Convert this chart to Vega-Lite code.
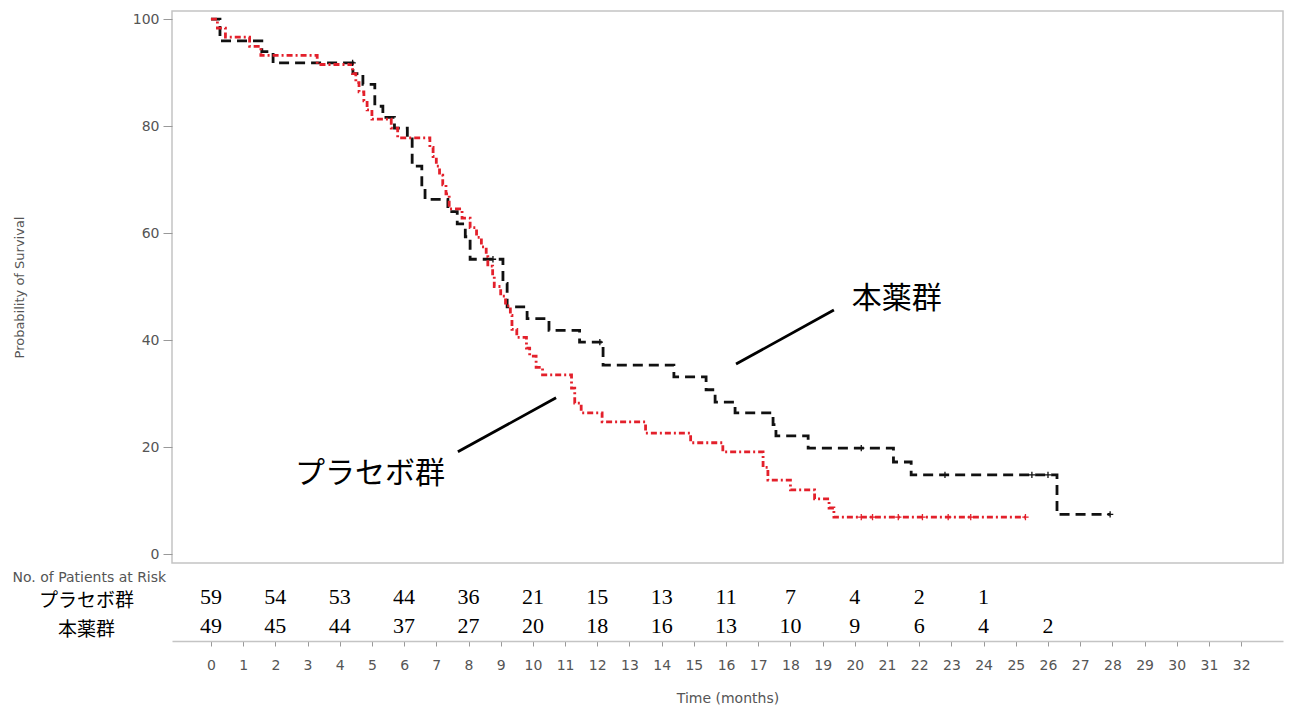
{
  "$schema": "https://vega.github.io/schema/vega-lite/v6.json",
  "padding": {"left": 12, "top": 10, "right": 5, "bottom": 5},
  "background": "white",
  "spacing": 5,
  "bounds": "flush",
  "config": {
    "view": {"stroke": "#c4c4c4", "strokeWidth": 1.5},
    "axis": {"labelFont": "DejaVu Sans", "titleFont": "DejaVu Sans", "labelColor": "#555555", "titleColor": "#555555", "grid": false}
  },
  "datasets": {
    "km": [
      {"group": "本薬群", "t": 0, "s": 100},
      {"group": "本薬群", "t": 0.28, "s": 95.9},
      {"group": "本薬群", "t": 1.58, "s": 93.9},
      {"group": "本薬群", "t": 1.93, "s": 91.8},
      {"group": "本薬群", "t": 4.41, "s": 89.8},
      {"group": "本薬群", "t": 4.72, "s": 87.8},
      {"group": "本薬群", "t": 5.09, "s": 83.7},
      {"group": "本薬群", "t": 5.34, "s": 81.6},
      {"group": "本薬群", "t": 5.7, "s": 79.6},
      {"group": "本薬群", "t": 6.1, "s": 77.6},
      {"group": "本薬群", "t": 6.25, "s": 72.5},
      {"group": "本薬群", "t": 6.55, "s": 68.4},
      {"group": "本薬群", "t": 6.65, "s": 66.3},
      {"group": "本薬群", "t": 7.36, "s": 64.0},
      {"group": "本薬群", "t": 7.65, "s": 61.7},
      {"group": "本薬群", "t": 7.9, "s": 59.3},
      {"group": "本薬群", "t": 8.05, "s": 55.1},
      {"group": "本薬群", "t": 9.07, "s": 50.6},
      {"group": "本薬群", "t": 9.2, "s": 46.2},
      {"group": "本薬群", "t": 9.82, "s": 44.0},
      {"group": "本薬群", "t": 10.5, "s": 41.8},
      {"group": "本薬群", "t": 11.45, "s": 39.6},
      {"group": "本薬群", "t": 12.18, "s": 35.3},
      {"group": "本薬群", "t": 14.38, "s": 33.1},
      {"group": "本薬群", "t": 15.38, "s": 30.7},
      {"group": "本薬群", "t": 15.66, "s": 28.4},
      {"group": "本薬群", "t": 16.28, "s": 26.4},
      {"group": "本薬群", "t": 17.46, "s": 24.2},
      {"group": "本薬群", "t": 17.55, "s": 22.1},
      {"group": "本薬群", "t": 18.55, "s": 19.8},
      {"group": "本薬群", "t": 21.2, "s": 17.2},
      {"group": "本薬群", "t": 21.75, "s": 14.8},
      {"group": "本薬群", "t": 26.28, "s": 7.4},
      {"group": "本薬群", "t": 27.93, "s": 7.4},
      {"group": "プラセボ群", "t": 0, "s": 100},
      {"group": "プラセボ群", "t": 0.2, "s": 98.3},
      {"group": "プラセボ群", "t": 0.45, "s": 96.6},
      {"group": "プラセボ群", "t": 1.2, "s": 94.9},
      {"group": "プラセボ群", "t": 1.55, "s": 93.2},
      {"group": "プラセボ群", "t": 3.3, "s": 91.5},
      {"group": "プラセボ群", "t": 4.4, "s": 89.8},
      {"group": "プラセボ群", "t": 4.5, "s": 88.1},
      {"group": "プラセボ群", "t": 4.6, "s": 86.4},
      {"group": "プラセボ群", "t": 4.75, "s": 84.7},
      {"group": "プラセボ群", "t": 4.85, "s": 83.0},
      {"group": "プラセボ群", "t": 5.0, "s": 81.3},
      {"group": "プラセボ群", "t": 5.6, "s": 79.6},
      {"group": "プラセボ群", "t": 5.8, "s": 77.8},
      {"group": "プラセボ群", "t": 6.8, "s": 76.0},
      {"group": "プラセボ群", "t": 6.9, "s": 74.3},
      {"group": "プラセボ群", "t": 7.0, "s": 72.5},
      {"group": "プラセボ群", "t": 7.1, "s": 70.8},
      {"group": "プラセボ群", "t": 7.2, "s": 69.0},
      {"group": "プラセボ群", "t": 7.3, "s": 67.3},
      {"group": "プラセボ群", "t": 7.4, "s": 64.5},
      {"group": "プラセボ群", "t": 7.8, "s": 62.8},
      {"group": "プラセボ群", "t": 8.05, "s": 61.0},
      {"group": "プラセボ群", "t": 8.25, "s": 59.2},
      {"group": "プラセボ群", "t": 8.4, "s": 57.4},
      {"group": "プラセボ群", "t": 8.55, "s": 55.6},
      {"group": "プラセボ群", "t": 8.6, "s": 53.8},
      {"group": "プラセボ群", "t": 8.75, "s": 52.0},
      {"group": "プラセボ群", "t": 8.8, "s": 50.0},
      {"group": "プラセボ群", "t": 9.0, "s": 48.2},
      {"group": "プラセボ群", "t": 9.15, "s": 46.4},
      {"group": "プラセボ群", "t": 9.3, "s": 44.6},
      {"group": "プラセボ群", "t": 9.35, "s": 42.0},
      {"group": "プラセボ群", "t": 9.5, "s": 40.5},
      {"group": "プラセボ群", "t": 9.8, "s": 38.5},
      {"group": "プラセボ群", "t": 9.9, "s": 37.0},
      {"group": "プラセボ群", "t": 10.1, "s": 34.9},
      {"group": "プラセボ群", "t": 10.3, "s": 33.5},
      {"group": "プラセボ群", "t": 11.2, "s": 31.0},
      {"group": "プラセボ群", "t": 11.3, "s": 28.2},
      {"group": "プラセボ群", "t": 11.5, "s": 26.4},
      {"group": "プラセボ群", "t": 12.15, "s": 24.7},
      {"group": "プラセボ群", "t": 13.5, "s": 22.6},
      {"group": "プラセボ群", "t": 14.9, "s": 20.8},
      {"group": "プラセボ群", "t": 15.9, "s": 19.1},
      {"group": "プラセボ群", "t": 17.15, "s": 16.2},
      {"group": "プラセボ群", "t": 17.3, "s": 13.8},
      {"group": "プラセボ群", "t": 18.0, "s": 12.0},
      {"group": "プラセボ群", "t": 18.75, "s": 10.3},
      {"group": "プラセボ群", "t": 19.2, "s": 8.6},
      {"group": "プラセボ群", "t": 19.35, "s": 6.9},
      {"group": "プラセボ群", "t": 25.3, "s": 6.9}
    ],
    "censor": [
      {"group": "本薬群", "t": 4.4, "s": 91.8},
      {"group": "本薬群", "t": 8.76, "s": 55.1},
      {"group": "本薬群", "t": 12.08, "s": 39.6},
      {"group": "本薬群", "t": 20.2, "s": 19.8},
      {"group": "本薬群", "t": 22.8, "s": 14.8},
      {"group": "本薬群", "t": 25.5, "s": 14.8},
      {"group": "本薬群", "t": 26.0, "s": 14.8},
      {"group": "本薬群", "t": 27.93, "s": 7.4},
      {"group": "プラセボ群", "t": 20.2, "s": 6.9},
      {"group": "プラセボ群", "t": 20.55, "s": 6.9},
      {"group": "プラセボ群", "t": 21.35, "s": 6.9},
      {"group": "プラセボ群", "t": 22.1, "s": 6.9},
      {"group": "プラセボ群", "t": 22.9, "s": 6.9},
      {"group": "プラセボ群", "t": 23.6, "s": 6.9},
      {"group": "プラセボ群", "t": 25.3, "s": 6.9}
    ],
    "ann": [
      {"t": 7.67, "s": 19.1, "t2": 10.72, "s2": 29.2},
      {"t": 16.31, "s": 35.5, "t2": 19.35, "s2": 45.6}
    ],
    "labels": [
      {"t": 4.94, "s": 15.0, "label": "プラセボ群"},
      {"t": 21.3, "s": 47.7, "label": "本薬群"}
    ],
    "risk": [
      {"group": "プラセボ群", "row": 1, "t": 0, "n": 59},
      {"group": "プラセボ群", "row": 1, "t": 2, "n": 54},
      {"group": "プラセボ群", "row": 1, "t": 4, "n": 53},
      {"group": "プラセボ群", "row": 1, "t": 6, "n": 44},
      {"group": "プラセボ群", "row": 1, "t": 8, "n": 36},
      {"group": "プラセボ群", "row": 1, "t": 10, "n": 21},
      {"group": "プラセボ群", "row": 1, "t": 12, "n": 15},
      {"group": "プラセボ群", "row": 1, "t": 14, "n": 13},
      {"group": "プラセボ群", "row": 1, "t": 16, "n": 11},
      {"group": "プラセボ群", "row": 1, "t": 18, "n": 7},
      {"group": "プラセボ群", "row": 1, "t": 20, "n": 4},
      {"group": "プラセボ群", "row": 1, "t": 22, "n": 2},
      {"group": "プラセボ群", "row": 1, "t": 24, "n": 1},
      {"group": "本薬群", "row": 2, "t": 0, "n": 49},
      {"group": "本薬群", "row": 2, "t": 2, "n": 45},
      {"group": "本薬群", "row": 2, "t": 4, "n": 44},
      {"group": "本薬群", "row": 2, "t": 6, "n": 37},
      {"group": "本薬群", "row": 2, "t": 8, "n": 27},
      {"group": "本薬群", "row": 2, "t": 10, "n": 20},
      {"group": "本薬群", "row": 2, "t": 12, "n": 18},
      {"group": "本薬群", "row": 2, "t": 14, "n": 16},
      {"group": "本薬群", "row": 2, "t": 16, "n": 13},
      {"group": "本薬群", "row": 2, "t": 18, "n": 10},
      {"group": "本薬群", "row": 2, "t": 20, "n": 9},
      {"group": "本薬群", "row": 2, "t": 22, "n": 6},
      {"group": "本薬群", "row": 2, "t": 24, "n": 4},
      {"group": "本薬群", "row": 2, "t": 26, "n": 2}
    ]
  },
  "vconcat": [
    {
      "width": 1111,
      "height": 552,
      "encoding": {
        "x": {"field": "t", "type": "quantitative", "scale": {"domain": [-1.21, 33.3], "nice": false, "zero": false}, "axis": null},
        "y": {"field": "s", "type": "quantitative", "scale": {"domain": [-1.68, 101.5], "nice": false, "zero": false},
          "axis": {"values": [0, 20, 40, 60, 80, 100], "title": "Probability of Survival", "titleFontSize": 13, "titleFontWeight": "normal", "labelFontSize": 14, "tickSize": 9, "tickColor": "#999999", "domain": false, "labelPadding": 4, "titlePadding": 106}}
      },
      "layer": [
        {
          "data": {"name": "km"},
          "mark": {"type": "line", "interpolate": "step-after", "strokeWidth": 2.8},
          "encoding": {
            "color": {"field": "group", "type": "nominal", "scale": {"domain": ["本薬群", "プラセボ群"], "range": ["#111111", "#e3202b"]}, "legend": null},
            "strokeDash": {"field": "group", "type": "nominal", "scale": {"domain": ["本薬群", "プラセボ群"], "range": [[10, 6], [6, 3, 2, 3]]}, "legend": null}
          }
        },
        {
          "data": {"name": "censor"},
          "mark": {"type": "point", "shape": "M-1,0L1,0M0,-1L0,1", "size": 40, "strokeWidth": 1.3, "filled": false, "opacity": 1},
          "encoding": {
            "color": {"field": "group", "type": "nominal", "scale": {"domain": ["本薬群", "プラセボ群"], "range": ["#111111", "#e3202b"]}, "legend": null}
          }
        },
        {
          "data": {"name": "ann"},
          "mark": {"type": "rule", "color": "black", "strokeWidth": 2.8},
          "encoding": {
            "x2": {"field": "t2"},
            "y2": {"field": "s2"}
          }
        },
        {
          "data": {"name": "labels"},
          "mark": {"type": "text", "font": "Noto Sans CJK JP", "fontSize": 30, "color": "black", "align": "center", "baseline": "middle"},
          "encoding": {
            "text": {"field": "label"}
          }
        }
      ]
    },
    {
      "width": 1111,
      "height": 73,
      "view": {"stroke": null},
      "data": {"name": "risk"},
      "mark": {"type": "text", "font": "Liberation Serif", "fontSize": 22, "baseline": "middle", "color": "black"},
      "encoding": {
        "x": {"field": "t", "type": "quantitative", "scale": {"domain": [-1.21, 33.3], "nice": false, "zero": false},
          "axis": {"values": [0,1,2,3,4,5,6,7,8,9,10,11,12,13,14,15,16,17,18,19,20,21,22,23,24,25,26,27,28,29,30,31,32], "format": "d", "title": "Time (months)", "labelFontSize": 14, "titleFontSize": 14, "titleFontWeight": "normal", "tickSize": 5, "tickColor": "#999999", "domainColor": "#c4c4c4", "domainWidth": 1.5, "labelPadding": 12, "titlePadding": 19, "labelFlush": false, "labelOverlap": false}},
        "y": {"field": "row", "type": "quantitative", "scale": {"domain": [0, 2.5], "reverse": true, "nice": false, "zero": false},
          "axis": {"values": [1, 2], "labelExpr": "datum.value == 1 ? 'プラセボ群' : '本薬群'", "labelFont": "Noto Sans CJK JP", "labelFontSize": 19, "labelColor": "black", "labelAlign": "center", "labelPadding": 86, "labelOffset": 3, "ticks": false, "domain": false, "title": "No. of Patients at Risk", "titleAngle": 0, "titleAlign": "left", "titleBaseline": "middle", "titleX": -160, "titleY": 9, "titleFontSize": 14, "titleFontWeight": "normal"}},
        "text": {"field": "n", "type": "quantitative"}
      }
    }
  ]
}
